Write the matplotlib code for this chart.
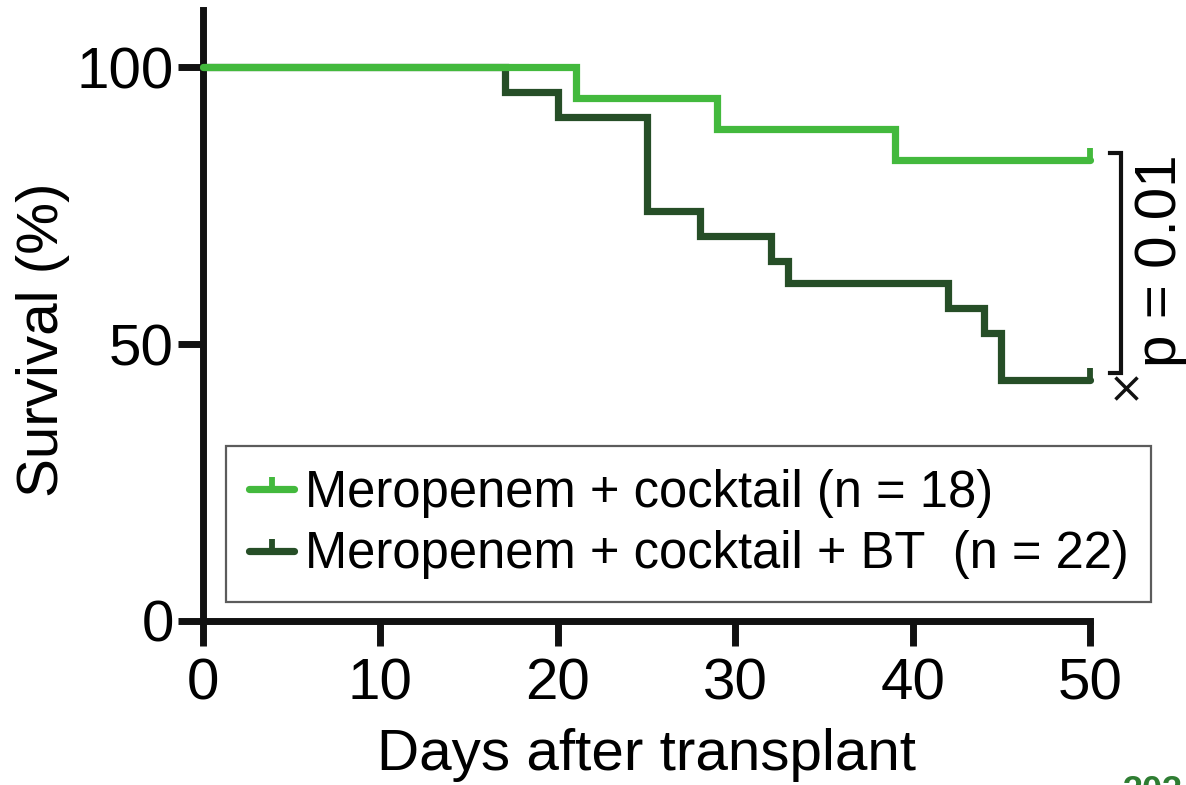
import matplotlib
matplotlib.use("Agg")
import matplotlib.pyplot as plt
from matplotlib.lines import Line2D
from matplotlib.path import Path

plt.rcParams['font.family'] = ['Liberation Sans', 'DejaVu Sans']

# Kaplan-Meier step data (day of event, survival %)
days_cocktail = [0, 21, 29, 39, 50]
surv_cocktail = [100, 94.4, 88.9, 83.3, 83.3]
days_bt = [0, 17, 20, 25, 28, 32, 33, 42, 44, 45, 50]
surv_bt = [100, 95.5, 91.0, 74.0, 69.5, 65.0, 61.0, 56.5, 52.0, 43.5, 43.5]

labels = ['Meropenem + cocktail (n = 18)', 'Meropenem + cocktail + BT  (n = 22)']
colors = ['#43B93D', '#264E27']
x_ticks = [0, 10, 20, 30, 40, 50]
y_ticks = [0, 50, 100]
p_text = 'p = 0.01'

# upward-only censor tick
censor = Path([[0, 0], [0, 1]])

fig = plt.figure(figsize=(11.86, 7.85), dpi=100)
ax = fig.add_axes([203 / 1186, 1 - 621 / 785, (1090 - 203) / 1186, (621 - 10) / 785])

lw = 5.2
series = [(days_bt, surv_bt, colors[1], 3), (days_cocktail, surv_cocktail, colors[0], 4)]
for d, s, c, z in series:
    ax.step(d, s, where='post', color=c, lw=lw, solid_joinstyle='miter',
            solid_capstyle='round', clip_on=False, zorder=z)
    ax.plot([d[-1]], [s[-1]], marker=censor, ms=17, mew=lw - 1, color=c,
            clip_on=False, zorder=z)

ax.set_xlim(0, 50)
ax.set_ylim(0, 110.3)
ax.set_xticks(x_ticks)
ax.set_yticks(y_ticks)
ax.tick_params(axis='both', length=18, width=5, labelsize=42, color='#111111')
ax.tick_params(axis='y', pad=3)
ax.tick_params(axis='x', pad=8)
for side in ['top', 'right']:
    ax.spines[side].set_visible(False)
for side in ['left', 'bottom']:
    ax.spines[side].set_linewidth(5)
    ax.spines[side].set_color('#111111')
    ax.spines[side].set_capstyle('projecting')

ax.set_xlabel('Days after transplant', fontsize=42)
ax.set_ylabel('Survival (%)', fontsize=42)
ax.xaxis.set_label_coords(0.5, -0.175)
ax.yaxis.set_label_coords(-0.15, 0.46)

# significance bracket
x_br = 51.75
ax.plot([51.1, x_br, x_br, 51.1], [84.5, 84.5, 44.8, 44.8], color='#111111',
        lw=3, clip_on=False, solid_joinstyle='miter')
ax.plot([52.05], [42.0], marker='x', ms=16, mew=2.5, color='#111111', clip_on=False)
ax.text(54.0, 65.0, p_text, rotation=90, fontsize=42, ha='center', va='center')

handles = [Line2D([], [], color=c, lw=lw, marker=censor, ms=17, mew=lw - 1,
                  solid_capstyle='round') for c in colors]
leg = ax.legend(handles, labels, loc='lower left', bbox_to_anchor=(0.026, 0.031),
                fontsize=36.5, frameon=True, fancybox=False, edgecolor='#333333',
                handlelength=0.9, handletextpad=0.2, labelspacing=0.24,
                borderpad=0.45, borderaxespad=0, numpoints=1)
leg.get_frame().set_linewidth(1.6)

fig.text(1122 / 1186, 10 / 785, '303', color='#2E7D32', fontsize=26,
         fontweight='bold', va='top', ha='left')

fig.savefig('out.png', dpi=100)
